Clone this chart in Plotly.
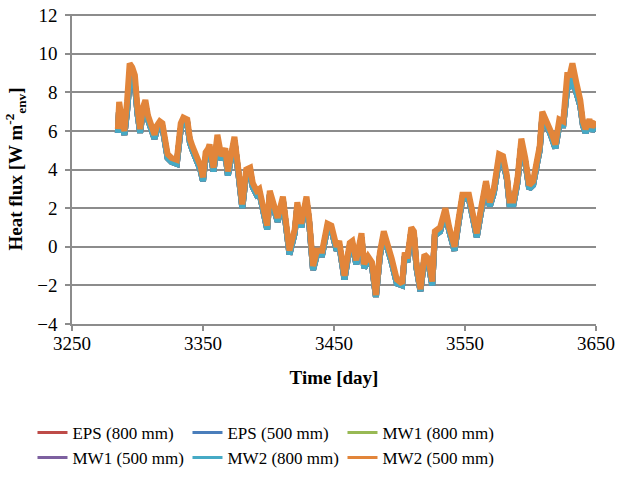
import plotly.graph_objects as go

# ---- data ----
days = [3285, 3286, 3288, 3290, 3292, 3294, 3296, 3298, 3300, 3302, 3304, 3306, 3308, 3311, 3313,
        3315, 3317, 3319, 3321, 3323, 3326, 3330, 3333, 3335, 3338, 3340, 3342, 3346, 3348, 3350,
        3352, 3354, 3355, 3358, 3361, 3364, 3367, 3369, 3372, 3374, 3377, 3380, 3383, 3386, 3388,
        3391, 3393, 3396, 3399, 3401, 3403, 3407, 3411, 3413, 3416, 3420, 3422, 3425, 3429, 3431,
        3434, 3437, 3441, 3445, 3448, 3452, 3454, 3458, 3462, 3464, 3467, 3471, 3473, 3476, 3479,
        3482, 3485, 3488, 3490, 3494, 3498, 3502, 3504, 3506, 3509, 3511, 3513, 3516, 3519, 3522,
        3525, 3527, 3531, 3535, 3538, 3542, 3545, 3548, 3553, 3556, 3559, 3562, 3566, 3569, 3572,
        3576, 3579, 3582, 3584, 3587, 3590, 3593, 3596, 3599, 3602, 3605, 3607, 3609, 3612, 3616,
        3619, 3622, 3625, 3628, 3630, 3632, 3635, 3638, 3640, 3642, 3645, 3647, 3650]

# MW2 (500 mm) - the top (orange) curve
mw2_500 = [6.1, 7.5, 6.6, 6.0, 7.5, 9.5, 9.3, 8.9, 7.2, 6.1, 7.2, 7.6, 6.8, 6.3, 5.8,
           6.3, 6.5, 6.4, 5.5, 4.8, 4.6, 4.5, 6.4, 6.7, 6.6, 5.6, 5.2, 4.6, 4.2, 3.6,
           4.9, 5.1, 5.3, 4.1, 5.8, 4.7, 5.1, 3.9, 5.2, 5.7, 4.0, 2.2, 4.0, 4.1, 3.3,
           2.9, 3.0, 2.2, 1.1, 2.9, 2.4, 1.5, 2.6, 1.5, -0.2, 0.9, 2.3, 1.2, 2.6, 1.5,
           -1.0, -0.2, -0.2, 1.2, 1.1, 0.0, 0.3, -1.5, 0.2, 0.3, -0.7, 0.7, -0.9, -0.5, -0.8,
           -2.5, -0.3, 0.8, 0.4, -0.6, -1.7, -1.9, -0.3, -0.6, 1.0, 0.8, -0.9, -2.2, -0.4, -0.6,
           -1.8, 0.8, 1.0, 2.0, 1.0, 0.0, 1.4, 2.7, 2.7, 1.8, 0.7, 1.9, 3.4, 2.3, 3.0,
           4.8, 4.7, 3.7, 2.4, 2.4, 3.5, 5.6, 4.6, 3.2, 3.4, 4.5, 5.2, 7.0, 6.6, 5.9,
           5.3, 6.6, 6.5, 8.9, 8.9, 9.5, 8.5, 7.6, 6.5, 6.1, 6.6, 6.2, 6.5]

# the other five curves run just underneath the orange one
others = [5.9, 7.2, 6.4, 5.8, 7.0, 8.6, 8.7, 8.4, 6.9, 5.9, 7.0, 7.4, 6.6, 6.1, 5.6,
          6.1, 6.3, 6.2, 5.3, 4.6, 4.4, 4.3, 6.1, 6.5, 6.4, 5.4, 5.0, 4.4, 4.0, 3.4,
          4.6, 4.9, 5.1, 3.9, 5.5, 4.5, 4.9, 3.7, 5.0, 5.5, 3.8, 2.0, 3.8, 3.9, 3.1,
          2.7, 2.8, 2.0, 0.9, 2.7, 2.2, 1.3, 2.4, 1.3, -0.4, 0.7, 2.1, 1.0, 2.4, 1.3,
          -1.2, -0.4, -0.4, 1.0, 0.9, -0.2, 0.1, -1.7, 0.0, 0.1, -0.9, 0.5, -1.1, -0.7, -1.0,
          -2.6, -0.5, 0.6, 0.2, -0.8, -1.9, -2.0, -0.5, -0.8, 0.8, 0.6, -1.1, -2.3, -0.6, -0.8,
          -2.0, 0.6, 0.8, 1.8, 0.8, -0.2, 1.2, 2.5, 2.5, 1.6, 0.5, 1.7, 3.2, 2.1, 2.8,
          4.5, 4.5, 3.5, 2.2, 2.2, 3.3, 5.3, 4.4, 3.0, 3.2, 4.3, 5.0, 6.7, 6.4, 5.7,
          5.1, 6.3, 6.3, 8.2, 8.3, 8.7, 8.0, 7.3, 6.3, 5.9, 6.4, 6.0, 6.3]

series_names = ["EPS (800 mm)", "EPS (500 mm)", "MW1 (800 mm)",
                "MW1 (500 mm)", "MW2 (800 mm)", "MW2 (500 mm)"]
series_values = [others, others, others, others, others, mw2_500]
colors = ["#BE4B48", "#4A7EBB", "#98B954", "#7D60A0", "#46AAC5", "#E2853A"]

y_ticks = [-4, -2, 0, 2, 4, 6, 8, 10, 12]
x_ticks = [3250, 3350, 3450, 3550, 3650]

font_family = "Liberation Serif, Times New Roman, serif"

fig = go.Figure()
for name, vals, col in zip(series_names, series_values, colors):
    fig.add_trace(go.Scatter(x=days, y=vals, mode="lines", name=name,
                             line=dict(color=col, width=6), showlegend=False))
# legend entries with the thinner legend line style
for name, col in zip(series_names, colors):
    fig.add_trace(go.Scatter(x=[None], y=[None], mode="lines", name=name,
                             line=dict(color=col, width=3), showlegend=True))

grid_col = "#8C8C8C"
fig.update_layout(
    width=618, height=480,
    margin=dict(l=72, r=22, t=14, b=156, autoexpand=False),
    paper_bgcolor="white", plot_bgcolor="white",
    font=dict(family=font_family, size=19, color="black"),
    xaxis=dict(range=[3250, 3650], tickvals=x_ticks, ticktext=[str(v) for v in x_ticks],
               showgrid=False, showline=True, linecolor=grid_col, linewidth=1.5,
               ticks="outside", ticklen=5, tickcolor=grid_col, tickwidth=1.5,
               zeroline=False, ticklabelstandoff=-4, ticklabeloverflow="allow",
               title=dict(text="<b>Time [day]</b>", font=dict(size=19), standoff=18)),
    yaxis=dict(range=[-4, 12.06], tickvals=y_ticks, showgrid=True, gridcolor=grid_col,
               gridwidth=1.5, showline=True, linecolor=grid_col, linewidth=1.5,
               ticks="outside", ticklen=5, tickcolor=grid_col, tickwidth=1.5,
               zeroline=False, ticklabelstandoff=4, ticklabeloverflow="allow",
               title=dict(text="<b>Heat flux [W m<sup>-2</sup><sub>env</sub>]</b>",
                          font=dict(size=19), standoff=10)),
    legend=dict(orientation="h", x=-0.0754, xanchor="left", y=-0.293, yanchor="top",
                entrywidth=110, entrywidthmode="pixels", font=dict(size=17),
                itemwidth=30, tracegroupgap=0, bgcolor="rgba(0,0,0,0)"),
)

fig.write_html("out.html", config={"displayModeBar": False},
               post_script="document.body.style.margin='0px';")
